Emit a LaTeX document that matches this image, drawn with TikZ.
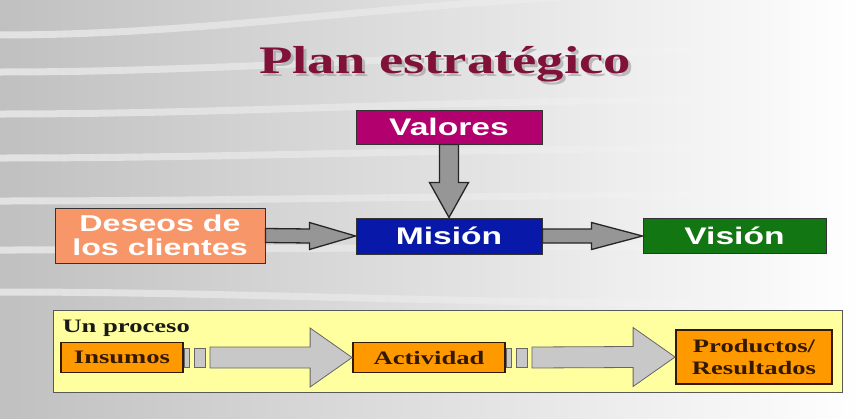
\documentclass[tikz,border=0pt]{standalone}
\usepackage{fontspec}
\setmainfont{Liberation Serif}
\setsansfont{Liberation Sans}
\usepackage{graphicx}
\usetikzlibrary{calc,fadings}
\definecolor{fondo}{RGB}{192,192,192}
\definecolor{granate}{RGB}{128,18,58}
\definecolor{colValores}{RGB}{178,0,110}
\definecolor{colMision}{RGB}{8,24,168}
\definecolor{colVision}{RGB}{18,118,18}
\definecolor{colDeseos}{RGB}{247,150,105}
\definecolor{colPanel}{RGB}{255,255,160}
\definecolor{colNaranja}{RGB}{255,153,0}
\definecolor{colTexto}{RGB}{50,25,0}
\definecolor{colFlecha}{RGB}{150,150,150}
\definecolor{colFlechaClara}{RGB}{200,200,200}
\newcommand{\ancho}[1]{\scalebox{1.4}[1]{#1}}
% estilo, origen, destino, separacion, medio cuerpo, media punta, largo punta
\newcommand{\flecha}[7]{%
\draw[#1] ($(#2.east)+(#4,-#5)$) -- ($(#3.west)+(-#7,-#5)$) -- ($(#3.west)+(-#7,-#6)$) -- (#3.west)
 -- ($(#3.west)+(-#7,#6)$) -- ($(#3.west)+(-#7,#5)$) -- ($(#2.east)+(#4,#5)$) -- cycle;}
\newcommand{\rayas}[1]{%
\draw[fina] ($(#1.east)+(0,-9.5)$) rectangle ++(5,19);
\draw[fina] ($(#1.east)+(10,-9.5)$) rectangle ++(11,19);}
\tikzset{
caja/.style={draw=black!80, line width=1, inner sep=0, text=white, font=\sffamily\bfseries\fontsize{24}{24}\selectfont},
naranja/.style={draw=colTexto, line width=1.8, fill=colNaranja, inner sep=0, text=colTexto, font=\bfseries\fontsize{19}{22}\selectfont},
panel/.style={draw=black!65, line width=1, fill=colPanel},
gruesa/.style={draw=black!85, line width=1.3, fill=colFlecha},
fina/.style={draw=black!60, line width=0.8, fill=colFlechaClara},
raya/.style={white, opacity=.55, line width=7, path fading=east}
}
\begin{document}
\begin{tikzpicture}[x=1pt,y=-1pt]
\useasboundingbox (0,0) rectangle (862,418);
% fondo
\fill[left color=fondo, right color=white] (0,0) rectangle (862,418);
\foreach \y/\d in {35/-45, 72/-22, 114/-15, 158/-10, 201/-6, 250/-4, 292/12}
  \draw[raya] (0,\y) .. controls (250,\y) and (450,\y+\d) .. (800,\y+\d);
% titulo
\node[font=\bfseries\fontsize{39}{39}\selectfont, text=black!40, opacity=.6, anchor=base] (sombra) at (448,76) {\ancho{Plan estratégico}};
\node[font=\bfseries\fontsize{39}{39}\selectfont, text=granate, anchor=base] (titulo) at (445,73) {\ancho{Plan estratégico}};
% plan
\node[caja, fill=colValores, minimum width=186, minimum height=34] (valores) at (449,127) {\ancho{Valores}};
\node[caja, fill=colMision, minimum width=186, minimum height=36] (mision) at (449,236) {\ancho{Misión}};
\node[caja, fill=colVision, minimum width=183, minimum height=35] (vision) at (734.5,236) {\ancho{Visión}};
\node[caja, fill=colDeseos, minimum width=210, minimum height=55, align=center,
  font=\sffamily\bfseries\fontsize{23}{24}\selectfont] (deseos) at (160,235.5) {\ancho{Deseos de}\\\ancho{los clientes}};
\flecha{gruesa}{deseos}{mision}{0}{7}{13.5}{46}
\flecha{gruesa}{mision}{vision}{0}{7}{13.5}{51}
\draw[gruesa] ($(valores.south)+(-9.5,0)$) -- ($(mision.north)+(-9.5,-35)$) -- ($(mision.north)+(-19.5,-35)$) -- (mision.north)
 -- ($(mision.north)+(19.5,-35)$) -- ($(mision.north)+(9.5,-35)$) -- ($(valores.south)+(9.5,0)$) -- cycle;
% proceso
\node[panel, minimum width=789, minimum height=82] (panel) at (447.5,351) {};
\node[font=\bfseries\fontsize{19}{19}\selectfont, text=black!90, anchor=base west] (proceso) at (59,332) {\ancho{Un proceso}};
\node[naranja, minimum width=122, minimum height=30] (insumos) at (122,357.5) {\ancho{Insumos}};
\node[naranja, minimum width=152, minimum height=30] (actividad) at (429,357.5) {\ancho{Actividad}};
\node[naranja, minimum width=156, minimum height=54, align=center] (productos) at (754,357) {\ancho{Productos/}\\\ancho{Resultados}};
\rayas{insumos}
\flecha{fina}{insumos}{actividad}{26}{10.5}{29.5}{42}
\rayas{actividad}
\flecha{fina}{actividad}{productos}{26}{10.5}{29.5}{42}
\end{tikzpicture}
\end{document}
